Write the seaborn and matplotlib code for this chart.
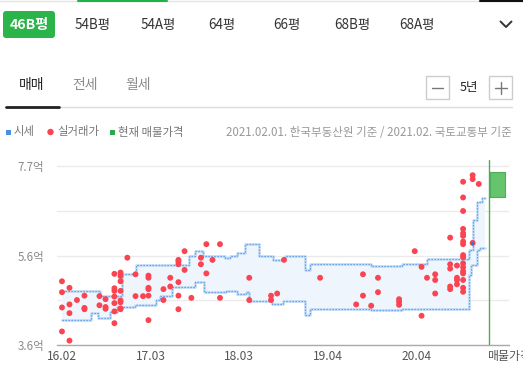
import numpy as np
import pandas as pd
import matplotlib
matplotlib.use("Agg")
import matplotlib.pyplot as plt
import seaborn as sns
from matplotlib.patches import Rectangle, FancyBboxPatch, Circle
from matplotlib.lines import Line2D
from matplotlib.transforms import Affine2D

# ---------------- data ----------------
area_tabs = ["46B평", "54B평", "54A평", "64평", "66평", "68B평", "68A평"]
deal_tabs = ["매매", "전세", "월세"]
period_label = "5년"
legend_labels = ["시세", "실거래가", "현재 매물가격"]
source_note = "2021.02.01. 한국부동산원 기준 / 2021.02. 국토교통부 기준"

x_tick_pos = [0, 13, 26, 39, 52, 65.6]
x_tick_labels = ["16.02", "17.03", "18.03", "19.04", "20.04", "매물가격"]
y_tick_pos = [3.6, 4.625, 5.65, 6.675, 7.7]
y_tick_labels = ["3.6억", "", "5.6억", "", "7.7억"]

# 실거래가 (month index from 16.02, price in 억)
deal_month = [0, 0, 0, 0, 1.1, 1.1, 1.1, 1.1, 2.2, 3.3, 3.3, 3.3, 5.5, 5.5,
              6.4, 6.4, 6.4, 7.7, 7.7, 7.7, 7.7, 7.7, 7.7, 7.7,
              8.6, 8.6, 8.6, 8.6, 8.6, 8.6, 8.6, 8.6, 9.6, 10.8, 10.8, 11.9,
              12.7, 12.7, 12.7, 12.7, 12.7, 12.7, 14.9, 14.9, 15.9, 15.9,
              17.1, 17.1, 17.1, 17.1, 17.1, 17.1, 18.0, 18.0, 19.0, 20.4, 20.4,
              21.2, 21.2, 22.1, 23.2, 23.2, 27.5, 27.5, 30.7, 30.7, 31.6, 32.6,
              37.9, 43.2, 44.2, 44.2, 45.4, 46.4, 46.4, 49.5, 49.5, 49.5,
              51.8, 52.8, 52.8, 53.6, 54.8, 54.8, 54.8,
              57.0, 57.0, 57.0, 57.0, 57.0, 58.0, 58.0, 58.0, 58.0,
              58.9, 58.9, 58.9, 58.9, 58.9, 58.9, 58.9, 58.9, 58.9, 58.9,
              58.9, 58.9, 58.9, 58.9, 58.9, 58.9, 58.9,
              60.3, 60.3, 60.3, 61.2]
deal_price = [5.06, 4.81, 4.46, 3.91, 4.91, 4.53, 4.33, 3.70, 4.63, 4.73, 4.45, 4.42, 4.72, 4.51,
              4.65, 4.47, 4.43, 5.23, 4.90, 4.84, 4.71, 4.56, 4.37, 4.10,
              5.26, 5.18, 5.06, 4.84, 4.62, 4.58, 4.44, 4.42, 5.60, 5.22, 4.72, 4.72,
              5.19, 5.14, 4.91, 4.88, 4.73, 4.17, 4.88, 4.63, 5.14, 4.94,
              5.55, 5.51, 5.45, 5.04, 4.73, 4.42, 5.75, 5.32, 4.68, 5.60, 5.45,
              5.91, 5.24, 5.55, 5.91, 4.68, 5.14, 4.63, 4.73, 4.63, 4.78, 5.55,
              5.14, 4.53, 5.22, 4.73, 4.50, 5.14, 4.81, 4.65, 4.59, 4.52,
              5.75, 5.39, 4.27, 5.14, 5.22, 5.09, 4.78,
              6.06, 5.45, 5.35, 4.94, 4.88, 5.42, 5.14, 5.09, 4.99,
              7.34, 6.98, 6.67, 6.26, 6.16, 6.10, 5.97, 5.91, 5.66, 5.61,
              5.47, 5.38, 5.29, 5.24, 5.09, 4.91, 4.82,
              7.49, 7.40, 5.94, 7.29]

# 시세 band (step change points)
upper_month = [0, 5.6, 8.8, 10.9, 18.6, 19.5, 20.7, 23.9, 24.7, 25.7, 26.9, 28.9,
               31.0, 32.7, 35.7, 36.4, 45.4, 49.9, 53.6, 59.8, 60.3, 60.9, 61.7, 62.1]
upper_price = [4.83, 4.73, 5.23, 5.44, 5.65, 5.75, 5.65, 5.60, 5.65, 5.71, 5.91, 5.65,
               5.55, 5.65, 5.32, 5.45, 5.42, 5.46, 5.56, 5.78, 6.46, 6.88, 6.97, 6.97]
lower_month = [0, 4.3, 5.3, 7.0, 8.1, 10.7, 13.8, 14.4, 16.2, 19.5, 20.9, 24.1, 25.7,
               27.0, 27.5, 30.8, 32.5, 35.7, 36.4, 45.4, 49.9, 59.8, 60.1, 60.9, 61.4, 62.1]
lower_price = [4.17, 4.33, 4.23, 4.35, 4.48, 4.52, 4.63, 4.73, 4.94, 5.04, 4.82, 4.84, 4.77,
               4.82, 4.61, 4.53, 4.61, 4.29, 4.42, 4.40, 4.42, 5.20, 5.43, 5.78, 5.82, 5.82]
current_sise_month = [60.3]
current_sise_price = [5.92]

# 현재 매물가격
listing_line_month = 62.7
listing_month = [62.85, 65.0]
listing_low = 6.99
listing_high = 7.56

# ---------------- style ----------------
sns.set_style("white")
plt.rcParams['font.family'] = ['Noto Sans CJK KR', 'DejaVu Sans']

W, H = 523, 381
fig = plt.figure(figsize=(W / 100, H / 100), dpi=100)
T = Affine2D().scale(1 / 100) + fig.dpi_scale_trans


def py(y):
    return H - y


def ftext(x, y, s, **kw):
    fig.text(x, py(y), s, transform=T, **kw)


# ---------------- chart ----------------
ax = fig.add_axes([57 / W, 1 - 345 / H, (509 - 57) / W, (345 - 159.5) / H])
ax.set_xlim(-0.73, 65.64)
ax.set_ylim(3.6, 7.85)

# fill band
grid = np.unique(np.concatenate([upper_month, lower_month]))
ui = np.searchsorted(upper_month, grid, side='right') - 1
li = np.searchsorted(lower_month, grid, side='right') - 1
ax.fill_between(grid, np.array(lower_price)[li], np.array(upper_price)[ui],
                step='post', color='#eef5fc', lw=0, zorder=1)

for xs, ys in [(upper_month, upper_price), (lower_month, lower_price)]:
    sns.lineplot(x=xs, y=ys, ax=ax, drawstyle='steps-post', estimator=None, sort=False,
                 color='#c3dbf6', lw=1.8, zorder=2)
    sns.lineplot(x=xs, y=ys, ax=ax, drawstyle='steps-post', estimator=None, sort=False,
                 color='#4f95e4', lw=0.9, linestyle=(0, (1, 1.4)), zorder=3)

sns.scatterplot(x=deal_month, y=deal_price, ax=ax, color='#fa4452', s=18,
                edgecolor='none', linewidth=0, zorder=4)
sns.scatterplot(x=current_sise_month, y=current_sise_price, ax=ax, color='#3f6fd0',
                s=6, edgecolor='none', zorder=5)

ax.axvline(listing_line_month, color='#4caf50', lw=1.0, zorder=5)
ax.fill_between(listing_month, listing_low, listing_high, color='#66c46f',
                edgecolor='#4cae57', lw=0.8, zorder=5)

ax.set_yticks(y_tick_pos)
ax.set_yticklabels(y_tick_labels)
ax.set_xticks(x_tick_pos)
ax.set_xticklabels(x_tick_labels)
ax.tick_params(axis='y', length=0, pad=9, labelsize=8.3, labelcolor='#8a8a8a')
ax.tick_params(axis='x', length=0, pad=3.5, labelsize=8.6, labelcolor='#555555')
ax.grid(axis='y', color='#ebebeb', lw=1.0)
ax.grid(axis='x', visible=False)
for s in ['top', 'right', 'left']:
    ax.spines[s].set_visible(False)
ax.spines['bottom'].set_color('#aaaaaa')
ax.spines['bottom'].set_linewidth(1.0)
ax.set_xlabel("")
ax.set_ylabel("")
ax.set_facecolor('none')

# ---------------- UI chrome ----------------
# top line
fig.add_artist(Line2D([0, W], [py(0.5), py(0.5)], transform=T, color='#e4e4e4', lw=1))
fig.add_artist(Line2D([78, 167], [py(0.5), py(0.5)], transform=T, color='#21b24b', lw=1.5))
fig.add_artist(Line2D([480, W], [py(0.5), py(0.5)], transform=T, color='#111111', lw=1.5))

# area tabs
fig.add_artist(FancyBboxPatch((3, py(38)), 52, 27, boxstyle="round,pad=0,rounding_size=3",
                              transform=T, facecolor='#2bb44a', edgecolor='none'))
tab_x = [29, 93, 158, 222, 287, 352, 417]
for i, (lab, x) in enumerate(zip(area_tabs, tab_x)):
    if i == 0:
        ftext(x, 24.5, lab, ha='center', va='center', fontsize=10.2, color='white', fontweight='bold')
    else:
        ftext(x, 24.5, lab, ha='center', va='center', fontsize=9.7, color='#333333')
fig.add_artist(Line2D([500.5, 506, 511.5], [py(21.5), py(27), py(21.5)], transform=T,
                      color='#333333', lw=1.4))

# deal tabs
deal_x = [32, 85, 138]
for i, (lab, x) in enumerate(zip(deal_tabs, deal_x)):
    ftext(x, 84.5, lab, ha='center', va='center', fontsize=10,
          color='#222222' if i == 0 else '#8a8a8a', fontweight='medium' if i == 0 else 'normal')
fig.add_artist(Line2D([6, 512], [py(107), py(107)], transform=T, color='#dddddd', lw=1))
fig.add_artist(Line2D([6, 59], [py(107), py(107)], transform=T, color='#222222', lw=2))

# period buttons
for x0 in [426, 489]:
    fig.add_artist(Rectangle((x0, py(99)), 23, 23, transform=T, facecolor='white',
                             edgecolor='#cccccc', lw=1))
fig.add_artist(Line2D([432, 443], [py(87.5), py(87.5)], transform=T, color='#777777', lw=1))
fig.add_artist(Line2D([494.5, 506.5], [py(87.5), py(87.5)], transform=T, color='#777777', lw=1))
fig.add_artist(Line2D([500.5, 500.5], [py(81.5), py(93.5)], transform=T, color='#777777', lw=1))
ftext(469, 87.5, period_label, ha='center', va='center', fontsize=9, color='#222222')

# legend row
fig.add_artist(Rectangle((6, py(135)), 5, 5, transform=T, facecolor='#4a90e2', edgecolor='none'))
ftext(14, 132, legend_labels[0], ha='left', va='center', fontsize=8.2, color='#777777')
fig.add_artist(Circle((50.5, py(132)), 3.2, transform=T, facecolor='#fa4452', edgecolor='none'))
ftext(57, 132, legend_labels[1], ha='left', va='center', fontsize=8.2, color='#777777')
fig.add_artist(Rectangle((110, py(135)), 5, 5, transform=T, facecolor='#2ea84a', edgecolor='none'))
ftext(118, 132, legend_labels[2], ha='left', va='center', fontsize=8.2, color='#777777')
ftext(512, 132, source_note, ha='right', va='center', fontsize=8.3, color='#999999')

fig.savefig("out.png", dpi=100)
